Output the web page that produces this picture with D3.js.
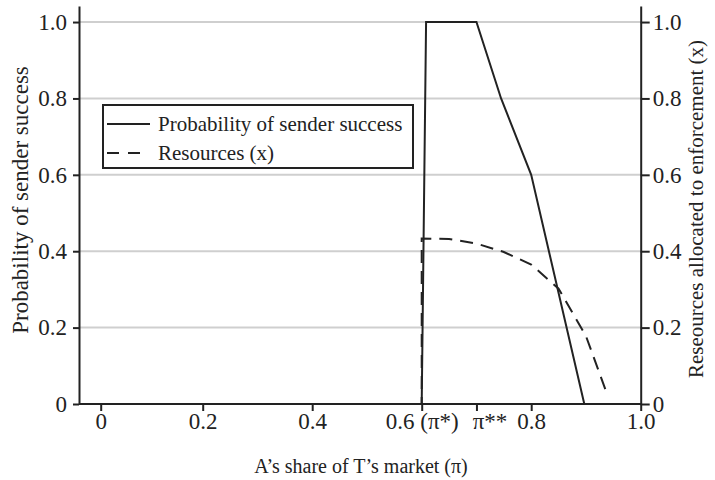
<!DOCTYPE html>
<html>
<head>
<meta charset="utf-8">
<script src="https://cdn.jsdelivr.net/npm/d3@7"></script>
<style>
  body { margin: 0; background: #fff; }
  svg text { font-family: "Liberation Serif", "Times New Roman", serif; fill: #222; }
</style>
</head>
<body>
<div id="chart"></div>
<script>
// valeurs
var successX = [0, 0.6, 0.608, 0.7, 0.745, 0.8, 0.897, 1.0];
var successY = [0, 0, 1, 1, 0.8, 0.6, 0, 0];
var resourcesX = [0, 0.6, 0.6, 0.65, 0.7, 0.75, 0.8, 0.85, 0.9, 0.938];
var resourcesY = [0, 0, 0.433, 0.432, 0.42, 0.398, 0.365, 0.302, 0.178, 0.028];
var xTicks = [0, 0.2, 0.4, 0.6, 0.7, 0.8, 1.0];
var xTickLabels = ["0", "0.2", "0.4", "0.6 (\u03c0*)", "\u03c0**", "0.8", "1.0"];
var yTicks = [0, 0.2, 0.4, 0.6, 0.8, 1.0];
var legendLabels = ["Probability of sender success", "Resources (x)"];

var width = 715, height = 480;
var svg = d3.select("#chart").append("svg")
    .attr("width", width)
    .attr("height", height);

var x = d3.scaleLinear().domain([0, 0.2, 1]).range([100.7, 202.7, 640.7]);
var y = d3.scaleLinear().domain([0, 1.042]).range([404, 6]);
var left = 79, right = 640.7;

// grille
svg.append("g").selectAll("line")
    .data(yTicks.slice(1))
    .enter().append("line")
    .attr("x1", left).attr("x2", right)
    .attr("y1", function(d) { return y(d); })
    .attr("y2", function(d) { return y(d); })
    .style("stroke", "#cfcfcf")
    .style("stroke-width", 2);

function fmt(d) { return d === 0 ? "0" : d3.format(".1f")(d); }

// axe gauche
var gLeft = svg.append("g")
    .attr("transform", "translate(" + left + ",0)")
    .call(d3.axisLeft(y).tickValues(yTicks).tickFormat(fmt).tickSizeInner(6).tickSizeOuter(0).tickPadding(6));

// axe droit
var gRight = svg.append("g")
    .attr("transform", "translate(" + right + ",0)")
    .call(d3.axisRight(y).tickValues(yTicks).tickFormat(fmt).tickSizeInner(9).tickSizeOuter(0).tickPadding(3));

// axe x
var gBottom = svg.append("g")
    .attr("transform", "translate(0," + y(0) + ")")
    .call(d3.axisBottom(x).tickValues(xTicks)
        .tickFormat(function(d, i) { return xTickLabels[i]; })
        .tickSizeInner(7).tickSizeOuter(0).tickPadding(2));
gBottom.select(".domain").attr("d", "M" + left + ",0H" + right);

[gLeft, gRight, gBottom].forEach(function(g) {
    g.attr("font-size", 23).attr("font-family", "'Liberation Serif', serif");
    g.selectAll("path, line").style("stroke", "#222").style("stroke-width", 2);
    g.selectAll("text").style("font-size", "23px").style("fill", "#222");
});
gBottom.selectAll(".tick text").filter(function(d) { return d === 0.7; })
    .attr("dx", 13);

// courbes
function toPoints(xs, ys) {
    return xs.map(function(v, i) { return [v, ys[i]]; });
}
var line = d3.line()
    .x(function(d) { return x(d[0]); })
    .y(function(d) { return y(d[1]); });

svg.append("path")
    .datum(toPoints(resourcesX, resourcesY))
    .attr("d", line)
    .style("fill", "none")
    .style("stroke", "#222")
    .style("stroke-width", 2)
    .style("stroke-dasharray", "13,8");

svg.append("path")
    .datum(toPoints(successX, successY))
    .attr("d", line)
    .style("fill", "none")
    .style("stroke", "#222")
    .style("stroke-width", 2);

// titres
svg.append("text")
    .attr("x", 361).attr("y", 473)
    .attr("text-anchor", "middle")
    .style("font-size", "20px")
    .text("A\u2019s share of T\u2019s market (\u03c0)");

svg.append("text")
    .attr("transform", "translate(28,200) rotate(-90)")
    .attr("text-anchor", "middle")
    .style("font-size", "23px")
    .text("Probability of sender success");

svg.append("text")
    .attr("transform", "translate(703,209) rotate(-90)")
    .attr("text-anchor", "middle")
    .style("font-size", "21px")
    .text("Reseources allocated to enforcement (x)");

// légende
var lg = svg.append("g").attr("transform", "translate(103,105)");
lg.append("rect")
    .attr("width", 310).attr("height", 63)
    .style("fill", "#fff")
    .style("stroke", "#222")
    .style("stroke-width", 2);

var item = lg.selectAll(".legend")
    .data(legendLabels)
    .enter().append("g")
    .attr("class", "legend")
    .attr("transform", function(d, i) { return "translate(0," + (19 + i * 29) + ")"; });

item.append("line")
    .attr("x1", 4)
    .attr("x2", function(d, i) { return i === 1 ? 37 : 47; })
    .style("stroke", "#222")
    .style("stroke-width", 2)
    .style("stroke-dasharray", function(d, i) { return i === 1 ? "12,9" : null; });

item.append("text")
    .attr("x", 55).attr("y", 7)
    .style("font-size", "21px")
    .text(function(d) { return d; });
</script>
</body>
</html>
